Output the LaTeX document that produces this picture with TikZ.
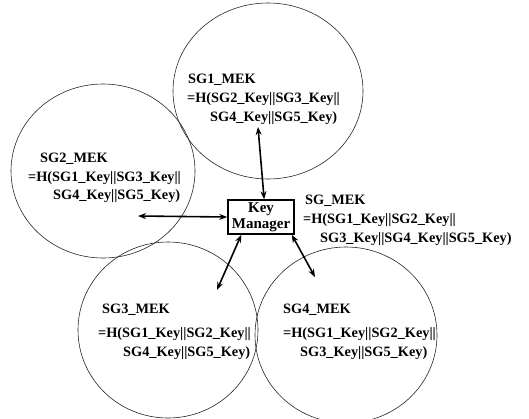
\documentclass[tikz,border=0pt]{standalone}
\usepackage{fontspec}
\setmainfont{Liberation Serif}
\usetikzlibrary{arrows.meta}
\begin{document}
\begin{tikzpicture}[x=1pt,y=-1pt,
  ring/.style={line width=0.6pt, draw=black!85},
  lbl/.style={font=\bfseries\fontsize{14.3}{16}\selectfont, inner sep=0pt, anchor=base west},
  dbl/.style={{Stealth[length=8pt,width=6pt]}-{Stealth[length=8pt,width=6pt]}, line width=1.6pt},
  kmbox/.style={draw, line width=1.5pt, minimum width=66pt, minimum height=34pt, inner sep=0pt, align=center, font=\bfseries\fontsize{15}{16}\selectfont}]
\useasboundingbox (0,0) rectangle (529,418);
% circles
\draw[ring] (268,91) ellipse [x radius=95pt, y radius=88pt];
\draw[ring] (103,171) ellipse [x radius=92pt, y radius=87pt];
\draw[ring] (168,330) ellipse [x radius=90pt, y radius=88pt];
\draw[ring] (346,335) ellipse [x radius=91pt, y radius=88pt];
% key manager
\node[kmbox] (km) at (261,217) {Key\\Manager};
% texts
\node[lbl] (s1a) at (188,83) {SG1\_MEK};
\node[lbl] (s1b) at (187,102) {=H(SG2\_Key||SG3\_Key||};
\node[lbl] (s1c) at (210,121) {SG4\_Key||SG5\_Key)};
\node[lbl] (s2a) at (40,162) {SG2\_MEK};
\node[lbl] (s2b) at (28,181) {=H(SG1\_Key||SG3\_Key||};
\node[lbl] (s2c) at (53,199) {SG4\_Key||SG5\_Key)};
\node[lbl] (sga) at (305,204) {SG\_MEK};
\node[lbl] (sgb) at (303,223) {=H(SG1\_Key||SG2\_Key||};
\node[lbl] (sgc) at (320,242) {SG3\_Key||SG4\_Key||SG5\_Key)};
\node[lbl] (s3a) at (102,313) {SG3\_MEK};
\node[lbl] (s3b) at (98,337) {=H(SG1\_Key||SG2\_Key||};
\node[lbl] (s3c) at (123,356) {SG4\_Key||SG5\_Key)};
\node[lbl] (s4a) at (283,313) {SG4\_MEK};
\node[lbl] (s4b) at (283,337) {=H(SG1\_Key||SG2\_Key||};
\node[lbl] (s4c) at (300,356) {SG3\_Key||SG5\_Key)};
% arrow ends
\coordinate (t1) at (258,127);
\coordinate (t2) at (138,216);
\coordinate (t3) at (217,290);
\coordinate (t4) at (315,277);
\draw[dbl] (km.80) -- (t1);
\draw[dbl] (km.west) -- (t2);
\draw[dbl] (km.222) -- (t3);
\draw[dbl] (km.-30) -- (t4);
\end{tikzpicture}
\end{document}
